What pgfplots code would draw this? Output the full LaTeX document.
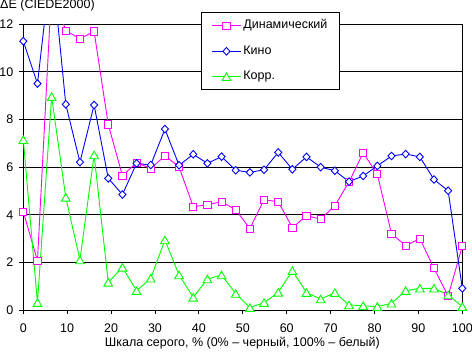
\documentclass[border=0pt]{standalone}
\usepackage{pgfplots}
\usepackage{pgfplotstable}
\usepackage{fontspec}
\setmainfont{Liberation Sans}
\pgfplotsset{compat=1.18}
\newcommand\f{\fontsize{12.5bp}{15bp}\selectfont}
\definecolor{mag}{RGB}{255,0,255}
\definecolor{blu}{RGB}{0,0,255}
\definecolor{grn}{RGB}{0,255,0}
\pgfplotstableread{
x dyn kino korr
0 4.13 11.29 7.15
3.226 2.07 9.51 0.31
6.452 13.5 14.7 8.96
9.677 11.73 8.64 4.73
12.903 11.4 6.21 2.10
16.129 11.7 8.61 6.51
19.355 7.79 5.53 1.16
22.581 5.64 4.85 1.79
25.806 6.19 6.16 0.81
29.032 5.94 6.09 1.33
32.258 6.48 7.60 2.94
35.484 6.01 6.08 1.47
38.710 4.34 6.54 0.53
41.935 4.42 6.16 1.30
45.161 4.55 6.44 1.47
48.387 4.21 5.87 0.69
51.613 3.42 5.78 0.10
54.839 4.63 5.89 0.31
58.065 4.55 6.62 0.74
61.290 3.46 5.91 1.65
64.516 3.96 6.43 0.73
67.742 3.82 6.00 0.46
70.968 4.38 5.85 0.73
74.194 5.38 5.39 0.21
77.419 6.60 5.63 0.18
80.645 5.70 6.05 0.14
83.871 3.21 6.47 0.28
87.097 2.70 6.55 0.81
90.323 3.00 6.43 0.91
93.548 1.75 5.48 0.91
96.774 0.59 5.01 0.63
100 2.68 0.91 0.14
}\data
\begin{document}
\begin{tikzpicture}
\useasboundingbox (-23.3bp,-43bp) rectangle (448.7bp,310bp);
\begin{axis}[
  at={(0,0)}, anchor=south west,
  scale only axis, width=439bp, height=285.7bp,
  xmin=0, xmax=100, ymin=0, ymax=12,
  xtick={0,10,...,100}, ytick={0,2,...,12},
  xtick pos=left, ytick pos=left,
  tick align=outside, major tick length=4bp,
  tick style={black, line width=1bp},
  axis line style={black, line width=1bp},
  ymajorgrids, grid style={black, line width=1bp},
  /pgf/number format/assume math mode=true,
  tick label style={font=\f},
  xticklabel style={yshift=-8.5bp, inner sep=1bp},
  yticklabel style={xshift=-2.5bp},
  xlabel={Шкала серого, \% (0\% – черный, 100\% – белый)},
  xlabel style={font=\f, at={(axis description cs:0.499,-0.128)}, anchor=base, inner sep=0pt},
  legend style={font=\f, at={(axis description cs:0.4055,1.042)}, anchor=north west,
    draw=black, line width=1bp, fill=white, inner xsep=9.7bp, inner ysep=5bp,
    nodes={inner sep=2bp, text height=9bp, text depth=3bp}, row sep=9.5bp},
  legend cell align=left,
  legend image code/.code={\draw[mark repeat=2,mark phase=2] plot coordinates {(0bp,0bp) (14.5bp,0bp) (29bp,0bp)};},
]
\addplot[forget plot, mag, line width=0.9bp, mark=none] table[x=x,y=dyn]{\data};
\addplot[forget plot, blu, line width=0.9bp, mark=none] table[x=x,y=kino]{\data};
\addplot[forget plot, grn, line width=0.9bp, mark=none] table[x=x,y=korr]{\data};
\addplot[forget plot, only marks, restrict y to domain=-1:12.05, mark=square*, mark size=3.6bp, mark options={draw=mag, fill=white, line width=0.9bp}] table[x=x,y=dyn]{\data};
\addplot[forget plot, only marks, restrict y to domain=-1:12.05, mark=diamond*, mark size=3.8bp, mark options={draw=blu, fill=white, line width=0.9bp, xscale=1.25}] table[x=x,y=kino]{\data};
\addplot[forget plot, only marks, restrict y to domain=-1:12.05, mark=triangle*, mark size=5bp, mark options={draw=grn, fill=white, line width=0.9bp, yshift=-1.2bp}] table[x=x,y=korr]{\data};
\addlegendimage{mag, line width=0.9bp, mark=square*, mark size=3.6bp, mark options={draw=mag, fill=white}}
\addlegendentry{Динамический}
\addlegendimage{blu, line width=0.9bp, mark=diamond*, mark size=3.8bp, mark options={draw=blu, fill=white, xscale=1.25}}
\addlegendentry{Кино}
\addlegendimage{grn, line width=0.9bp, mark=triangle*, mark size=5bp, mark options={draw=grn, fill=white, yshift=-1.2bp}}
\addlegendentry{Корр.}
\end{axis}
\node[font=\f, anchor=west, inner sep=0pt] at (-23.3bp,304.3bp) {ΔE (CIEDE2000)};
\end{tikzpicture}
\end{document}
